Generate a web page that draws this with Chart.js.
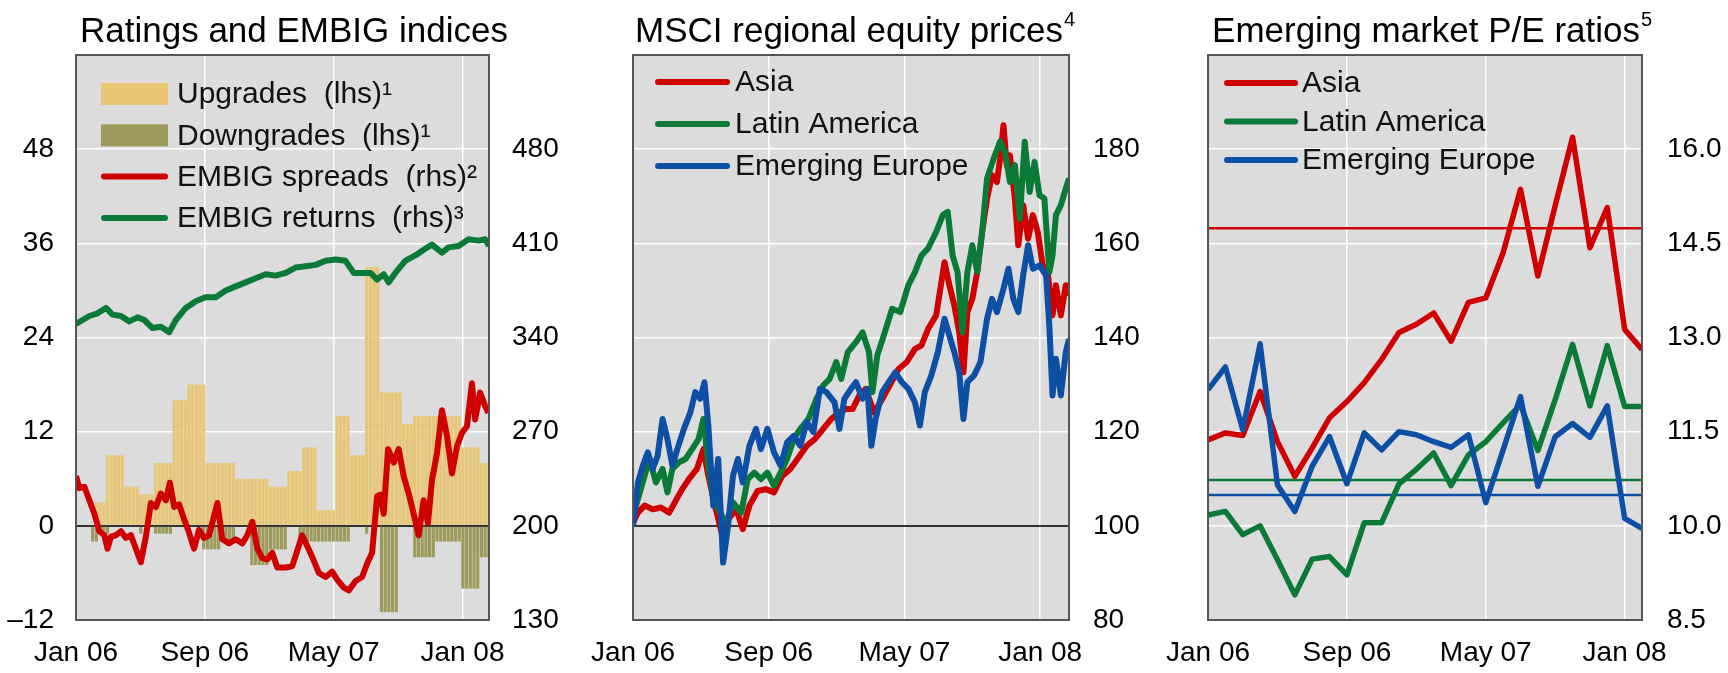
<!DOCTYPE html>
<html>
<head>
<meta charset="utf-8">
<title>Ratings, equity prices and P/E ratios</title>
<script src="https://cdn.jsdelivr.net/npm/chart.js@4.4.0/dist/chart.umd.min.js"></script>
<style>
  html, body { margin: 0; padding: 0; background: #fff; }
  #wrap { position: relative; width: 1728px; height: 673px; overflow: hidden; }
  #wrap canvas { position: absolute; top: 0; }
</style>
</head>
<body>
<div id="wrap">
  <canvas id="ratingsChart" width="575" height="673" style="left:0"></canvas>
  <canvas id="equityChart" width="575" height="673" style="left:575px"></canvas>
  <canvas id="peChart" width="578" height="673" style="left:1150px"></canvas>
</div>
<script>
// x positions are months since Jan 2006
const tickMonths = [0, 8, 16, 24];
const tickLabels = ["Jan 06", "Sep 06", "May 07", "Jan 08"];

// Ratings changes, weekly (lhs)
const upgrades = [0,0,0,0,0, 3,3,3, 9,9,9,9,9, 5,5,5,5, 4,4,4,4, 8,8,8,8,8, 16,16,16,16,
  18,18,18,18,18, 8,8,8,8,8,8,8,8, 6,6,6,6,6,6,6,6,6, 5,5,5,5,5, 7,7,7,7, 10,10,10,10,
  2,2,2,2,2, 14,14,14,14, 9,9,9,9, 33,33,33,33, 17,17,17,17,17,17, 13,13,13,
  14,14,14,14,14,14,14,14,14,14,14,14,14, 10,10,10,10,10, 8,8,8];
const downgrades = [0,0,0,0, -2,-2, -1,-1,-1, 0,0,0,0,0,0,0,0, -1, 0,0,0, -1,-1,-1,-1,-1,
  0,0,0,0,0,0,0,0, -3,-3,-3,-3,-3, -2,-2,-2,-2, 0,0,0,0, -5,-5,-5,-5,-5, -3,-3,-3,-3,-3,
  0,0,0, -2,-2,-2,-2,-2,-2,-2,-2,-2,-2,-2,-2,-2,-2, 0,0,0,0, -1, 0,0,0,
  -11,-11,-11,-11,-11, 0,0,0,0, -4,-4,-4,-4,-4,-4, -2,-2,-2,-2,-2,-2,-2,
  -8,-8,-8,-8,-8, -4,-4,-4];

// EMBIG spreads (rhs)
const spreadMonths = [0,0.21,0.52,0.83,1.14,1.45,1.76,1.96,2.17,2.48,2.79,3.10,3.41,3.72,4.03,
  4.34,4.65,4.96,5.27,5.58,5.83,6.10,6.40,6.71,7.02,7.33,7.64,7.95,8.26,8.57,8.78,9.09,9.50,
  9.92,10.33,10.64,10.95,11.26,11.57,11.88,12.19,12.50,13.02,13.43,14.05,14.36,14.67,15.08,
  15.50,15.91,16.22,16.63,16.94,17.36,17.77,18.08,18.39,18.70,18.90,19.11,19.38,19.73,20.04,
  20.35,20.66,20.87,21.28,21.59,21.86,22.11,22.42,22.73,23.04,23.35,23.66,23.97,24.28,24.59,
  24.79,25.10,25.41,25.62];
const spreadValues = [237,228,229,219,209,196,193,183,192,193,196,191,193,183,173,192,217,214,
  224,219,232,214,216,205,195,183,197,191,193,207,217,190,187,190,187,193,203,183,176,175,180,
  169,169,170,193,185,177,165,162,166,160,154,152,159,162,172,180,222,223,209,257,247,257,237,
  224,214,193,219,202,234,254,286,267,239,259,269,274,306,279,299,289,284];

// EMBIG returns (rhs)
const returnMonths = [0,0.41,0.83,1.34,1.86,2.27,2.79,3.31,3.82,4.24,4.75,5.27,5.79,6.20,6.82,
  7.44,8.06,8.68,9.30,9.92,10.54,11.16,11.78,12.40,13.02,13.64,14.26,14.88,15.50,16.12,16.74,
  17.25,17.77,18.29,18.70,19.11,19.42,19.83,20.45,21.07,21.69,22.11,22.73,23.14,23.76,24.38,
  25.00,25.41,25.66];
const returnValues = [350,353,356,358,362,357,356,352,355,353,347,348,344,353,362,367,370,370,
  375,378,381,384,387,386,388,392,393,394,397,398,397,388,388,388,383,387,381,388,397,401,406,
  409,403,407,408,413,412,413,408];

// MSCI regional equity prices
const asiaMonths = [0,0.29,0.68,1.16,1.64,2.13,2.51,2.90,3.29,3.77,4.15,4.44,4.83,5.22,5.60,
  6.09,6.47,6.86,7.34,7.83,8.31,8.79,9.28,9.76,10.24,10.72,11.21,11.69,12.17,12.56,12.95,13.33,
  13.72,14.20,14.69,15.17,15.65,16.14,16.62,17.00,17.39,17.87,18.36,18.65,18.94,19.23,19.48,
  19.71,20.00,20.29,20.58,20.87,21.16,21.45,21.64,21.84,22.03,22.22,22.51,22.71,23.00,23.29,
  23.57,23.86,24.15,24.44,24.73,24.93,25.22,25.51,25.70];
const asiaPrices = [100.7,102.8,104.3,103.5,103.9,102.8,105.3,107.8,109.9,112.1,116.3,110.6,
  104.3,98.6,101.4,103.5,99.3,104.3,107.4,107.8,107.1,110.6,112.1,114.5,117,118.4,120.6,122.7,
  124.1,124.8,124.8,127.7,129.1,124.1,126.9,130.1,133.3,134.8,137.6,138.3,141.8,144.7,156,
  151.1,146.8,141.1,132.6,145.4,148.2,153.9,162.4,169.5,174.5,173,178,185.1,176.6,178.7,169.5,
  159.6,168.1,161,166,162.4,155.3,153.9,144.7,151.1,144.7,151.1,148.9];
const latamMonths = [0,0.29,0.68,0.97,1.35,1.74,2.03,2.32,2.71,3.09,3.48,3.86,4.15,4.44,4.73,
  5.12,5.51,5.89,6.38,6.76,7.15,7.54,7.92,8.31,8.70,9.08,9.47,9.86,10.34,10.82,11.21,11.59,
  11.98,12.27,12.66,13.14,13.53,13.91,14.11,14.40,14.78,15.27,15.75,16.23,16.62,17.00,17.39,
  17.87,18.26,18.55,18.84,19.13,19.42,19.71,20.00,20.29,20.58,20.87,21.26,21.64,21.93,22.22,
  22.51,22.80,23.09,23.38,23.67,23.96,24.25,24.54,24.73,24.93,25.22,25.51,25.70];
const latamPrices = [102.1,105.7,110.6,114.2,109.2,112.1,107.1,112.1,113.5,114.2,116.3,118.4,
  122.7,112.8,105.7,102.8,100.7,105,102.8,109.9,111.3,109.9,111.3,108.5,111.3,114.2,118.4,
  120.6,122.7,127,129.8,131.2,134.8,131.2,136.9,139,141.1,136.9,128.4,136.2,140.4,146.1,145.4,
  151.1,153.9,157.4,158.9,162.4,166,166.7,157.4,153.9,141.1,153.9,159.6,153.9,162.4,173.8,178,
  181.6,179.4,173,176.6,165.2,181.6,170.9,177.3,170.2,169.5,153.9,157.4,166,168.1,171.6,173.8];
const europeMonths = [0,0.29,0.58,0.87,1.16,1.45,1.74,2.03,2.32,2.61,3.00,3.38,3.67,3.96,4.21,
  4.44,4.73,5.02,5.31,5.60,5.89,6.18,6.47,6.86,7.25,7.54,7.92,8.31,8.70,9.08,9.47,9.86,10.24,
  10.63,11.01,11.40,11.88,12.17,12.46,12.85,13.14,13.53,13.82,14.05,14.30,14.69,15.07,15.46,
  15.85,16.23,16.62,16.91,17.20,17.58,17.97,18.36,18.65,18.94,19.23,19.48,19.71,20.10,20.48,
  20.87,21.16,21.45,21.84,22.13,22.42,22.71,23.00,23.29,23.57,23.96,24.35,24.54,24.73,24.93,
  25.22,25.51,25.70];
const europePrices = [100,109.2,112.8,115.6,112.1,114.9,122.7,118.4,112.8,116.3,120.6,124.1,
  128.4,127,130.5,121.3,104.3,114.2,92.2,100,110.6,114.2,109.2,117,120.6,116.3,120.6,115.6,
  112.8,117.7,119.1,117,122,119.9,129.1,128.4,126.2,120.6,127,129.1,130.5,127,129.1,117,122.7,
  128.4,130.5,132.6,130.5,129.1,126.2,121.3,128.4,131.9,136.9,144,140.4,136.9,132.6,122.7,
  130.5,131.9,134.8,144,148.2,145.4,150.4,154.6,148.2,145.4,153.2,159.6,154.6,155.3,153.2,
  142.6,127.7,135.5,127.7,136.9,139.7];

// Emerging market P/E ratios, monthly Jan 06 - Feb 08
const peMonths = [0,1,2,3,4,5,6,7,8,9,10,11,12,13,14,15,16,17,18,19,20,21,22,23,24,25];
const asiaPE = [11.37,11.48,11.44,12.14,11.34,10.79,11.24,11.72,11.98,12.28,12.65,13.08,13.21,
  13.39,12.94,13.56,13.63,14.35,15.36,13.98,15.10,16.19,14.43,15.07,13.13,12.81];
const latamPE = [10.17,10.23,9.86,10.00,9.46,8.90,9.47,9.51,9.22,10.05,10.05,10.67,10.90,11.16,
  10.64,11.13,11.34,11.64,11.93,11.20,12.01,12.89,11.91,12.87,11.90,11.90];
const europePE = [12.17,12.53,11.53,12.90,10.65,10.23,10.95,11.42,10.67,11.48,11.21,11.50,
  11.45,11.34,11.25,11.45,10.37,11.21,12.06,10.63,11.42,11.63,11.41,11.91,10.12,9.96];
// long-term averages (thin lines)
const peAverages = [14.74, 10.73, 10.49];

const FONT = "'Liberation Sans', Arial, sans-serif";
const RED = "#cf0000", GREEN = "#0b7a37", BLUE = "#0d4fa5";

Chart.defaults.font.family = FONT;
Chart.defaults.color = "#000";

const pairs = (xs, ys) => xs.map((x, i) => ({ x: x, y: ys[i] }));
// weekly bars, first week starting 1 Jan 2006
const weekMonth = i => (i + 0.5) * 7 / 30.44;

// grey plot background and dark frame
const panelFrame = {
    id: "panelFrame",
    beforeDraw(chart) {
        const { ctx, chartArea: a } = chart;
        ctx.save();
        ctx.fillStyle = "#dcdcdc";
        ctx.fillRect(a.left, a.top, a.width, a.height);
        ctx.restore();
    },
    afterDatasetsDraw(chart) {
        const { ctx, chartArea: a } = chart;
        ctx.save();
        ctx.strokeStyle = "#555";
        ctx.lineWidth = 2;
        ctx.strokeRect(a.left, a.top, a.width, a.height);
        ctx.restore();
    }
};

// panel title with optional superscript footnote
const panelTitle = {
    id: "panelTitle",
    afterDraw(chart, args, opts) {
        const ctx = chart.ctx;
        const x = chart.chartArea.left + opts.offset;
        ctx.save();
        ctx.fillStyle = "#000";
        ctx.textBaseline = "alphabetic";
        ctx.font = "35px " + FONT;
        ctx.fillText(opts.text, x, 42);
        if (opts.sup) {
            const w = ctx.measureText(opts.text).width;
            ctx.font = "20px " + FONT;
            ctx.fillText(opts.sup, x + w + 1, 26);
        }
        ctx.restore();
    }
};

// legend drawn inside the plot, top left
const insideLegend = {
    id: "insideLegend",
    afterDraw(chart, args, opts) {
        const { ctx, chartArea: a } = chart;
        ctx.save();
        ctx.font = "30px " + FONT;
        ctx.textBaseline = "middle";
        chart.data.datasets.forEach(ds => {
            if (ds.legendRow === undefined) return;
            const y = opts.top + ds.legendRow * opts.rowGap;
            const x0 = a.left + opts.swatchLeft, x1 = a.left + opts.swatchRight;
            if (ds.type === "bar") {
                ctx.fillStyle = ds.backgroundColor;
                ctx.fillRect(x0, y - 11, x1 - x0, 22);
            } else {
                ctx.strokeStyle = ds.borderColor;
                ctx.lineWidth = 6;
                ctx.lineCap = "round";
                ctx.beginPath();
                ctx.moveTo(x0 + 3, y);
                ctx.lineTo(x1 - 3, y);
                ctx.stroke();
            }
            ctx.fillStyle = "#111";
            ctx.fillText(ds.label, a.left + opts.textLeft, y + 1);
        });
        ctx.restore();
    }
};

function monthAxis(max) {
    return {
        type: "linear",
        min: 0,
        max: max,
        offset: false,
        afterBuildTicks: s => { s.ticks = tickMonths.map(v => ({ value: v })); },
        ticks: {
            callback: v => tickLabels[tickMonths.indexOf(v)],
            font: { size: 28 },
            padding: 16,
            maxRotation: 0,
            autoSkip: false
        },
        grid: { color: "#fff", lineWidth: 1.5, drawTicks: false, offset: false },
        border: { display: false },
        afterFit: s => { s.height = 53; }
    };
}

function valueAxis(position, min, max, step, width, padding, label, baseValue, grid) {
    return {
        position: position,
        min: min,
        max: max,
        afterBuildTicks: s => {
            const t = [];
            for (let k = 0; min + k * step <= max + 1e-9; k++) t.push({ value: +(min + k * step).toFixed(2) });
            s.ticks = t;
        },
        ticks: {
            callback: v => (Math.abs(v - max) < 1e-9 ? "" : label(v)),
            font: { size: 28 },
            padding: padding
        },
        grid: grid ? {
            drawTicks: false,
            color: c => (c.tick && c.tick.value === baseValue ? "#333" : "#fff"),
            lineWidth: c => (c.tick && c.tick.value === baseValue ? 2 : 1.5)
        } : { drawOnChartArea: false, drawTicks: false },
        border: { display: false },
        afterFit: s => { s.width = width; }
    };
}

function lineSet(label, color, xs, ys, row, order, yAxisID, width) {
    return {
        type: "line",
        label: label,
        data: pairs(xs, ys),
        borderColor: color,
        borderWidth: width || 6,
        borderJoinStyle: "round",
        pointRadius: 0,
        tension: 0,
        fill: false,
        legendRow: row,
        order: order,
        yAxisID: yAxisID || "y"
    };
}

function panelOptions(padLeft, scales, legend, title) {
    return {
        responsive: false,
        animation: false,
        layout: { padding: { left: padLeft, top: 55, right: 0, bottom: 0 } },
        scales: scales,
        plugins: {
            legend: { display: false },
            tooltip: { enabled: false },
            insideLegend: legend,
            panelTitle: title
        }
    };
}

// Ratings and EMBIG indices
const weekIdx = upgrades.map((v, i) => weekMonth(i));
new Chart(document.getElementById("ratingsChart"), {
    type: "bar",
    data: {
        datasets: [
            {
                type: "bar", label: "Upgrades  (lhs)\u00b9", data: pairs(weekIdx, upgrades),
                backgroundColor: "#e8c674", borderWidth: 0, grouped: false,
                barPercentage: 0.86, categoryPercentage: 1, legendRow: 0, order: 5, yAxisID: "y"
            },
            {
                type: "bar", label: "Downgrades  (lhs)\u00b9", data: pairs(weekIdx, downgrades),
                backgroundColor: "#9d9a5b", borderWidth: 0, grouped: false,
                barPercentage: 0.86, categoryPercentage: 1, legendRow: 1, order: 4, yAxisID: "y"
            },
            lineSet("EMBIG spreads  (rhs)\u00b2", RED, spreadMonths, spreadValues, 2, 1, "y1"),
            lineSet("EMBIG returns  (rhs)\u00b3", GREEN, returnMonths, returnValues, 3, 2, "y1")
        ]
    },
    options: panelOptions(0, {
            x: monthAxis(25.65),
            y: valueAxis("left", -12, 60, 12, 76, 22, v => (v < 0 ? "\u2013" + Math.abs(v) : String(v)), 0, true),
            y1: valueAxis("right", 130, 550, 70, 86, 23, v => String(v), null, false)
        },
        { top: 94, rowGap: 41.3, swatchLeft: 25, swatchRight: 92, textLeft: 101 },
        { text: "Ratings and EMBIG indices", offset: 4 }),
    plugins: [panelFrame, insideLegend, panelTitle]
});

// MSCI regional equity prices
new Chart(document.getElementById("equityChart"), {
    type: "line",
    data: {
        datasets: [
            lineSet("Asia", RED, asiaMonths, asiaPrices, 0, 3),
            lineSet("Latin America", GREEN, latamMonths, latamPrices, 1, 2),
            lineSet("Emerging Europe", BLUE, europeMonths, europePrices, 2, 1)
        ]
    },
    options: panelOptions(50, {
            x: monthAxis(25.7),
            y: valueAxis("right", 80, 200, 20, 81, 24, v => String(v), 100, true)
        },
        { top: 82, rowGap: 42, swatchLeft: 22, swatchRight: 97, textLeft: 102 },
        { text: "MSCI regional equity prices", sup: "4", offset: 2 }),
    plugins: [panelFrame, insideLegend, panelTitle]
});

// Emerging market P/E ratios
const avgLine = (v, color) => ({
    type: "line", data: [{ x: peMonths[0], y: v }, { x: peMonths[peMonths.length - 1], y: v }],
    borderColor: color, borderWidth: 2.5, pointRadius: 0, order: 6
});
new Chart(document.getElementById("peChart"), {
    type: "line",
    data: {
        datasets: [
            lineSet("Asia", RED, peMonths, asiaPE, 0, 3, "y", 5.5),
            lineSet("Latin America", GREEN, peMonths, latamPE, 1, 2, "y", 5.5),
            lineSet("Emerging Europe", BLUE, peMonths, europePE, 2, 1, "y", 5.5),
            avgLine(peAverages[0], RED),
            avgLine(peAverages[1], GREEN),
            avgLine(peAverages[2], BLUE)
        ]
    },
    options: panelOptions(57, {
            x: monthAxis(25),
            y: valueAxis("right", 8.5, 17.5, 1.5, 86, 25, v => v.toFixed(1), null, true)
        },
        { top: 83, rowGap: 38.5, swatchLeft: 16, swatchRight: 90, textLeft: 94 },
        { text: "Emerging market P/E ratios", sup: "5", offset: 4 }),
    plugins: [panelFrame, insideLegend, panelTitle]
});
</script>
</body>
</html>
